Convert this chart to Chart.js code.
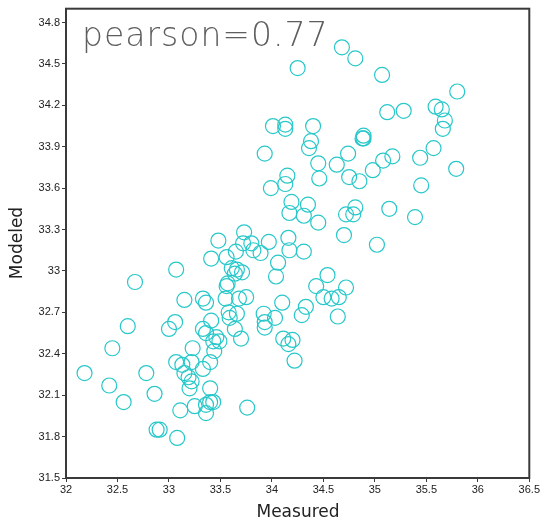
<!DOCTYPE html>
<html>
<head>
<meta charset="utf-8">
<script src="https://cdn.jsdelivr.net/npm/chart.js@4"></script>
<style>
  html, body { margin: 0; padding: 0; background: #fff; }
  #wrap { width: 541px; height: 524px; }
</style>
</head>
<body>
<div id="wrap"><canvas id="chart" width="541" height="524"></canvas></div>
<script>
// measured (x) vs modeled (y)
const measured = [
  34.68, 34.81, 34.25, 35.07, 35.80, 35.12, 35.28, 35.59, 35.65, 35.68,
  35.66, 34.01, 34.13, 34.13, 34.40, 34.89, 34.89, 34.88, 34.38, 34.36,
  33.93, 34.74, 34.45, 34.63, 35.08, 35.17, 35.44, 35.57, 34.98, 35.79,
  34.75, 34.85, 34.46, 34.15, 34.13, 33.99, 35.45, 34.19, 34.35, 34.17,
  34.31, 34.45, 34.72, 34.81, 34.79, 35.14, 35.39, 34.70, 35.02, 33.80,
  33.97, 34.16, 34.17, 33.89, 34.31, 34.06, 34.04, 34.54, 34.43, 34.72,
  34.50, 34.58, 34.65, 34.10, 34.33, 34.29, 34.64, 33.92, 34.03, 33.93,
  33.93, 34.11, 34.20, 34.16, 34.22, 33.76, 33.73, 33.48, 33.41, 33.56,
  33.65, 33.72, 33.82, 33.07, 33.61, 33.66, 33.71, 33.64, 33.57, 33.56,
  33.55, 33.68, 33.75, 33.15, 33.33, 33.36, 33.58, 33.66, 33.59, 33.06,
  33.00, 33.41, 33.33, 33.36, 33.64, 33.70, 33.46, 33.43, 33.49, 33.23,
  32.67, 32.60, 32.45, 33.44, 33.07, 33.13, 33.22, 33.19, 33.22, 33.15,
  33.20, 33.33, 33.40, 32.18, 32.78, 32.42, 32.86, 32.56, 33.40, 33.40,
  33.43, 33.36, 33.25, 33.11, 33.36, 32.88, 32.91, 33.08
];
const modeled = [
  34.62, 34.54, 34.47, 34.42, 34.30, 34.15, 34.16, 34.19, 34.17, 34.09,
  34.03, 34.05, 34.06, 34.03, 34.05, 33.98, 33.96, 33.96, 33.94, 33.89,
  33.85, 33.85, 33.78, 33.77, 33.80, 33.83, 33.82, 33.89, 33.73, 33.74,
  33.68, 33.65, 33.67, 33.69, 33.63, 33.60, 33.62, 33.50, 33.48, 33.42,
  33.40, 33.35, 33.41, 33.46, 33.41, 33.45, 33.39, 33.26, 33.19, 33.20,
  33.21, 33.24, 33.15, 33.13, 33.14, 33.06, 32.96, 32.97, 32.89, 32.88,
  32.81, 32.80, 32.81, 32.77, 32.74, 32.68, 32.67, 32.69, 32.66, 32.63,
  32.59, 32.51, 32.50, 32.47, 32.35, 32.01, 33.28, 33.22, 33.09, 33.10,
  33.14, 33.20, 33.15, 33.01, 33.02, 33.01, 32.99, 32.98, 32.91, 32.89,
  32.80, 32.80, 32.81, 32.79, 32.80, 32.77, 32.70, 32.69, 32.66, 32.63,
  32.58, 32.64, 32.58, 32.55, 32.58, 32.51, 32.52, 32.49, 32.49, 32.44,
  32.92, 32.60, 32.44, 32.42, 32.34, 32.32, 32.34, 32.23, 32.20, 32.26,
  32.15, 32.29, 32.34, 32.26, 32.26, 32.17, 32.11, 32.05, 32.15, 32.05,
  32.05, 32.03, 32.02, 31.99, 31.97, 31.85, 31.85, 31.79
];
const xTicks = [32, 32.5, 33, 33.5, 34, 34.5, 35, 35.5, 36, 36.5];
const yTicks = [31.5, 31.8, 32.1, 32.4, 32.7, 33, 33.3, 33.6, 33.9, 34.2, 34.5, 34.8];
const pearsonText = 'pearson=0.77';

const points = measured.map((m, i) => ({ x: m, y: modeled[i] }));
const fmt = v => String(parseFloat(Number(v).toFixed(1)));

// box round the plot, the big label and the axis titles
const decor = {
    id: 'decor',
    afterDraw(chart) {
        const { ctx, chartArea: a } = chart;
        ctx.save();
        ctx.strokeStyle = '#3a3a3a';
        ctx.lineWidth = 2;
        ctx.strokeRect(a.left, a.top, a.right - a.left, a.bottom - a.top);

        ctx.fillStyle = '#5e5e5e';
        ctx.font = '200 33px "DejaVu Sans"';
        ctx.letterSpacing = '1px';
        ctx.textAlign = 'left';
        ctx.textBaseline = 'alphabetic';
        ctx.fillText(pearsonText, 82, 46);
        ctx.letterSpacing = '0px';

        ctx.fillStyle = '#222';
        ctx.font = '17px "DejaVu Sans"';
        ctx.textAlign = 'center';
        ctx.textBaseline = 'middle';
        ctx.fillText('Measured', 298, 513);

        ctx.translate(18, 243);
        ctx.rotate(-Math.PI / 2);
        ctx.fillText('Modeled', 0, 0);
        ctx.restore();
    }
};

new Chart(document.getElementById('chart'), {
    type: 'scatter',
    data: {
        datasets: [{
            data: points,
            pointRadius: 7.5,
            pointHoverRadius: 7.5,
            pointBorderWidth: 1.2,
            pointBackgroundColor: 'rgba(0,0,0,0)',
            pointBorderColor: 'rgb(40,200,202)'
        }]
    },
    options: {
        responsive: false,
        animation: false,
        layout: { padding: { left: 0, right: 11, top: 7, bottom: 0 } },
        plugins: { legend: { display: false }, tooltip: { enabled: false } },
        scales: {
            x: {
                type: 'linear',
                min: 32,
                max: 36.5,
                afterBuildTicks: s => { s.ticks = xTicks.map(v => ({ value: v })); },
                afterFit: s => { s.height = 46; },
                grid: { display: true, drawOnChartArea: false, drawTicks: true, tickLength: 4, color: '#3a3a3a' },
                border: { display: false },
                ticks: {
                    callback: v => fmt(v),
                    color: '#222',
                    font: { family: 'Liberation Sans', size: 11 },
                    padding: 1,
                    maxRotation: 0,
                    autoSkip: false
                }
            },
            y: {
                type: 'linear',
                min: 31.5,
                max: 34.9,
                afterBuildTicks: s => { s.ticks = yTicks.map(v => ({ value: v })); },
                afterFit: s => { s.width = 66; },
                grid: { display: true, drawOnChartArea: false, drawTicks: true, tickLength: 4, color: '#3a3a3a' },
                border: { display: false },
                ticks: {
                    callback: v => fmt(v),
                    color: '#222',
                    font: { family: 'Liberation Sans', size: 11 },
                    padding: 2,
                    autoSkip: false
                }
            }
        }
    },
    plugins: [decor]
});
</script>
</body>
</html>
